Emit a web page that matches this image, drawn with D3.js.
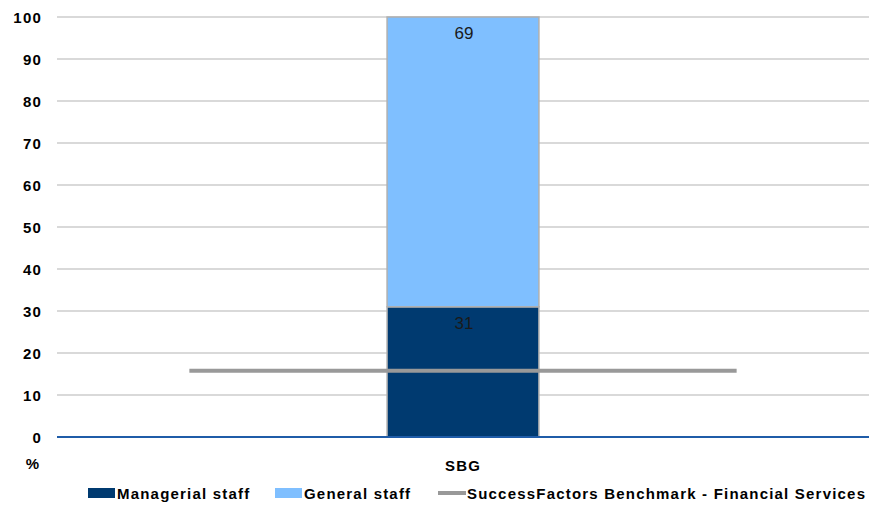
<!DOCTYPE html>
<html>
<head>
<meta charset="utf-8">
<script src="https://cdn.jsdelivr.net/npm/d3@7"></script>
<style>
  body { margin: 0; background: #fff; }
  svg { font-family: "Liberation Sans", Arial, sans-serif; }
  .tick text { font-weight: bold; font-size: 15px; fill: #000; letter-spacing: 1.2px; }
  .bold { font-weight: bold; font-size: 15px; letter-spacing: 1.2px; }
</style>
</head>
<body>
<svg id="chart" width="869" height="508"></svg>
<script>
const categories = ['SBG'];
const managerial = [31];
const general = [69];
const benchmark = [16];
const yTicks = [0, 10, 20, 30, 40, 50, 60, 70, 80, 90, 100];

const margin = { top: 17, right: 0, bottom: 70, left: 57 };
const width = 869, height = 508;
const svg = d3.select('#chart');

const x = d3.scaleBand()
  .domain(categories)
  .range([margin.left, width - margin.right])
  .paddingInner(0)
  .paddingOuter(0);

const y = d3.scaleLinear()
  .domain([0, 100])
  .range([height - margin.bottom - 1, margin.top]);

// grid lines
svg.append('g')
  .selectAll('line')
  .data(yTicks.filter(t => t > 0))
  .enter().append('line')
  .attr('x1', margin.left).attr('x2', width)
  .attr('y1', d => y(d)).attr('y2', d => y(d))
  .attr('stroke', '#d9d9d9')
  .attr('stroke-width', 2);

// y axis labels
const yAxis = svg.append('g')
  .attr('transform', `translate(${margin.left - 15},0)`)
  .call(d3.axisLeft(y).tickValues(yTicks).tickSize(0).tickPadding(0));
yAxis.select('.domain').remove();
yAxis.selectAll('.tick text').attr('dy', '0.35em');

const barW = x.bandwidth() * 0.187;
const stacks = categories.map((c, i) => ({
  cat: c,
  parts: [
    { key: 'Managerial staff', y0: 0, y1: managerial[i], color: '#003a70' },
    { key: 'General staff', y0: managerial[i], y1: managerial[i] + general[i], color: '#7fbfff' }
  ]
}));

const barG = svg.append('g');
stacks.forEach(s => {
  const cx = x(s.cat) + x.bandwidth() / 2;
  barG.selectAll(null)
    .data(s.parts)
    .enter().append('rect')
    .attr('x', cx - barW / 2)
    .attr('width', barW)
    .attr('y', d => y(d.y1))
    .attr('height', d => y(d.y0) - y(d.y1))
    .attr('fill', d => d.color)
    .attr('stroke', '#b0b0b0')
    .attr('stroke-width', 1.5);
  barG.selectAll(null)
    .data(s.parts)
    .enter().append('text')
    .attr('x', cx + 1)
    .attr('y', d => y(d.y1) + 22)
    .attr('text-anchor', 'middle')
    .attr('font-size', 17)
    .attr('fill', '#1a1a1a')
    .text(d => d.y1 - d.y0);
});

// benchmark line
const lineW = x.bandwidth() * 0.674;
categories.forEach((c, i) => {
  const cx = x(c) + x.bandwidth() / 2;
  svg.append('line')
    .attr('x1', cx - lineW / 2).attr('x2', cx + lineW / 2)
    .attr('y1', y(benchmark[i]) + 1).attr('y2', y(benchmark[i]) + 1)
    .attr('stroke', '#999')
    .attr('stroke-width', 4);
});

// baseline
svg.append('line')
  .attr('x1', margin.left).attr('x2', width)
  .attr('y1', y(0)).attr('y2', y(0))
  .attr('stroke', '#1f5ca8')
  .attr('stroke-width', 2);

// x labels
svg.append('g').selectAll('text')
  .data(categories)
  .enter().append('text')
  .attr('class', 'bold')
  .attr('x', d => x(d) + x.bandwidth() / 2)
  .attr('y', 471)
  .attr('text-anchor', 'middle')
  .text(d => d);

svg.append('text')
  .attr('class', 'bold')
  .attr('x', 33).attr('y', 469)
  .attr('text-anchor', 'middle')
  .text('%');

// legend
const legend = [
  { label: 'Managerial staff', type: 'rect', color: '#003a70', x: 88 },
  { label: 'General staff', type: 'rect', color: '#7fbfff', x: 275 },
  { label: 'SuccessFactors Benchmark - Financial Services', type: 'line', color: '#999', x: 438 }
];
const lg = svg.append('g');
legend.forEach(l => {
  if (l.type == 'rect') {
    lg.append('rect')
      .attr('x', l.x).attr('y', 488)
      .attr('width', 27).attr('height', 10)
      .attr('fill', l.color);
  } else {
    lg.append('line')
      .attr('x1', l.x).attr('x2', l.x + 28)
      .attr('y1', 493).attr('y2', 493)
      .attr('stroke', l.color).attr('stroke-width', 4);
  }
  lg.append('text')
    .attr('class', 'bold')
    .attr('x', l.x + 29).attr('y', 499)
    .text(l.label);
});
</script>
</body>
</html>
